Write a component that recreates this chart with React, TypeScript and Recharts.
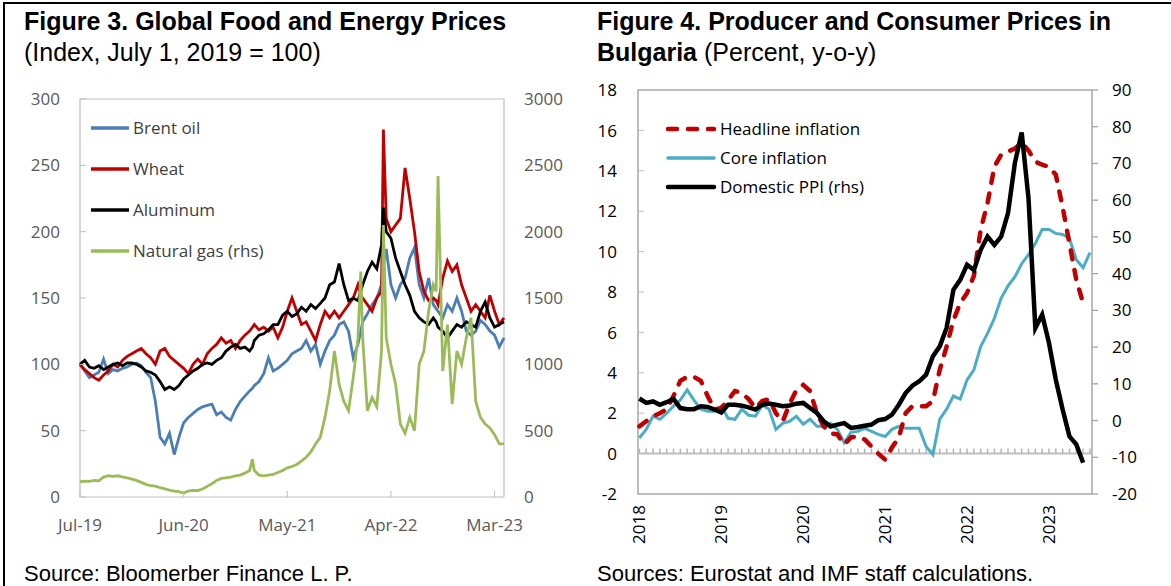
import React from 'react'
import { LineChart, Line, XAxis, YAxis, ReferenceLine, ReferenceArea } from 'recharts'

const TICK_FONT = '"Open Sans", "Noto Sans", sans-serif'
const TITLE_FONT = '"Liberation Sans", Arial, sans-serif'

// Figure 3: months since Jul 1, 2019 (extra points where the spikes are)
const priceMonths = [
  0, 0.5, 1, 1.5, 2, 2.5, 3, 3.5, 4, 4.5, 5, 5.5, 6, 6.5, 7, 7.5, 8, 8.5, 9, 9.5,
  10, 10.5, 11, 11.5, 12, 12.5, 13, 13.5, 14, 14.5, 15, 15.5, 16, 16.5, 17, 17.5, 18, 18.3, 18.5, 19,
  19.5, 20, 20.5, 21, 21.5, 22, 22.5, 23, 23.5, 24, 24.5, 25, 25.5, 26, 26.5, 27, 27.5, 28, 28.5, 29,
  29.5, 29.8, 30, 30.5, 31, 31.5, 32, 32.2, 32.5, 33, 33.5, 34, 34.5, 35, 35.5, 36, 36.5, 37, 37.5, 37.8,
  38, 38.5, 39, 39.5, 40, 40.5, 41, 41.5, 42, 42.5, 43, 43.5, 44, 44.5, 45,
]
const brent = [
  100, 95, 90, 92, 94, 104, 93, 96, 95, 97, 98, 100, 101, 99, 94, 90, 72, 45, 40, 48,
  32, 45, 56, 60, 63, 66, 68, 69, 70, 62, 64, 60, 58, 66, 72, 76, 80, 82, 84, 87,
  93, 105, 95, 97, 100, 103, 108, 110, 112, 118, 110, 115, 100, 110, 118, 122, 130, 132, 125, 105,
  115, 125, 132, 138, 145, 150, 160, 175, 187, 160, 150, 160, 165, 180, 188, 160, 150, 165, 145, 142,
  140, 135, 145, 140, 150, 140, 125, 122, 125, 133, 130, 125, 122, 113, 120,
]
const wheat = [
  100, 96, 93, 90, 88, 92, 95, 100, 98, 103, 106, 108, 110, 112, 108, 105, 100, 110, 112, 106,
  103, 100, 97, 93, 100, 104, 100, 108, 112, 115, 120, 116, 118, 112, 118, 122, 125, 128, 130, 126,
  128, 125, 128, 120, 128, 140, 150, 140, 130, 132, 125, 118, 130, 140, 135, 140, 135, 140, 145, 150,
  160, 152, 150, 145, 140, 150, 155, 277, 210, 200, 205, 210, 248, 225, 200, 170, 155, 148, 150, 148,
  145, 165, 178, 170, 175, 160, 150, 140, 145, 140, 135, 152, 140, 130, 135,
]
const aluminum = [
  100, 103, 98, 97, 99, 96, 98, 100, 101, 99, 101, 101, 100, 98, 95, 94, 92, 87, 81, 83,
  81, 84, 89, 92, 95, 97, 100, 101, 100, 103, 105, 110, 113, 115, 112, 113, 110, 113, 118, 122,
  123, 126, 130, 130, 137, 140, 136, 138, 143, 140, 145, 142, 146, 150, 160, 162, 176, 160, 148, 150,
  148, 155, 160, 170, 177, 172, 190, 218, 200, 195, 180, 170, 160, 152, 140, 135, 132, 130, 135, 132,
  128, 125, 120, 125, 130, 128, 132, 130, 128, 140, 147, 135, 128, 130, 132,
]
const naturalGas = [
  115, 120, 118, 125, 122, 150, 160, 155, 160, 152, 145, 135, 125, 110, 95, 85, 82, 70, 62, 52,
  45, 40, 30, 45, 50, 48, 60, 80, 100, 125, 140, 145, 150, 160, 165, 180, 200, 285, 200, 165,
  160, 165, 170, 185, 200, 220, 230, 245, 270, 300, 340, 400, 450, 600, 800, 1100, 850, 720, 650, 900,
  1200, 1700, 1200, 650, 750, 680, 1100, 2050, 1200, 1000, 850, 550, 480, 600, 500, 1000, 1100, 1400, 1600, 1550,
  2420, 950, 1300, 700, 1100, 1000, 1200, 1350, 720, 600, 550, 520, 470, 400, 400,
]
const priceTicks = [0, 11, 22, 33, 44]
const priceTickLabels = ['Jul-19', 'Jun-20', 'May-21', 'Apr-22', 'Mar-23']
const indexTicks = [0, 50, 100, 150, 200, 250, 300]
const gasTicks = [0, 500, 1000, 1500, 2000, 2500, 3000]

// Figure 4: monthly, Jan 2018 onwards
const headline = [
  1.35, 1.6, 1.85, 2.0, 2.2, 2.85, 3.6, 3.8, 3.8, 3.6, 2.85, 2.2,
  2.25, 2.65, 3.1, 3.0, 2.7, 2.25, 2.6, 2.7, 2.0, 1.6, 2.45, 3.15,
  3.4, 3.1, 2.0, 1.35, 1.0, 0.95, 0.45, 0.8, 0.85, 0.7, 0.35, 0.0,
  -0.3, 0.3, 0.8, 2.0, 2.35, 2.35, 2.35, 2.6, 4.15, 5.3, 6.6, 7.45,
  7.95, 8.8, 11.1, 12.4, 14.2, 14.8, 14.95, 15.1, 15.4, 15.0, 14.45, 14.3,
  14.2, 13.8, 12.2, 10.4, 8.6, 7.45,
]
const core = [
  0.77, 1.2, 1.85, 1.7, 2.0, 2.35, 2.65, 3.15, 2.65, 2.2, 2.1, 2.1,
  2.35, 1.75, 1.7, 2.2, 1.9, 1.85, 2.4, 2.2, 1.2, 1.5, 1.6, 1.85,
  1.45, 1.7, 1.35, 1.35, 1.5, 1.2, 0.55, 1.05, 1.1, 1.25, 1.1, 0.95,
  0.85, 1.2, 1.35, 1.25, 1.25, 1.25, 0.35, -0.05, 1.7, 2.2, 2.85, 2.7,
  3.65, 4.15, 5.3, 5.95, 6.7, 7.7, 8.3, 8.75, 9.4, 9.85, 10.4, 11.1,
  11.1, 10.9, 10.85, 10.65, 9.6, 9.2, 9.95,
]
const domesticPpi = [
  6.0, 4.8, 5.2, 4.3, 5.0, 5.9, 3.4, 3.1, 3.1, 3.9, 3.7, 3.0,
  2.2, 4.3, 4.3, 4.05, 3.6, 3.0, 4.3, 4.6, 4.3, 3.9, 4.1, 4.6,
  4.8, 3.4, 2.05, -0.2, -1.6, -1.1, -0.7, -2.0, -1.75, -1.4, -1.1, 0.1,
  0.4, 1.6, 4.3, 7.5, 9.5, 10.7, 12.5, 17.5, 20.2, 25.2, 35.6, 38.3,
  42.4, 41.0, 46.5, 50.1, 47.8, 50.1, 56.5, 70.1, 78.4, 60.5, 25.2, 28.8,
  21.1, 11.1, 3.0, -4.3, -6.5, -11.5,
]
const yearTicks = [0, 12, 24, 36, 48, 60]
const yearLabels = ['2018', '2019', '2020', '2021', '2022', '2023']
const pctTicks = [-2, 0, 2, 4, 6, 8, 10, 12, 14, 16, 18]
const ppiTicks = [-20, -10, 0, 10, 20, 30, 40, 50, 60, 70, 80, 90]

const monthIndex = core.map((_, i) => i)

// labels sit `gap` px off the axis, the small tick goes inward
function InwardYTick(props: any) {
  const { x, y, payload, gap, color } = props
  return (
    <g>
      <line x1={x + gap} x2={x + gap + 6} y1={y} y2={y} stroke="#bfbfbf" strokeWidth={1} />
      <text x={x} y={y} dy="0.36em" textAnchor="end" fill={color} fontSize={17} fontFamily={TICK_FONT}>
        {payload.value}
      </text>
    </g>
  )
}

function PriceXTick(props: any) {
  const { x, y, payload } = props
  const i = priceTicks.indexOf(payload.value)
  return (
    <g>
      <line x1={x} x2={x} y1={y - 22} y2={y - 28} stroke="#bfbfbf" strokeWidth={1} />
      <text x={x} y={y} dy="0.72em" textAnchor="middle" fill="#595959" fontSize={17} fontFamily={TICK_FONT}>
        {priceTickLabels[i]}
      </text>
    </g>
  )
}

function YearTick(props: any) {
  const { x, y, payload } = props
  const i = yearTicks.indexOf(payload.value)
  return (
    <text
      x={x}
      y={y}
      dy="0.36em"
      transform={`rotate(-90 ${x} ${y})`}
      textAnchor="end"
      fill="#000"
      fontSize={17}
      fontFamily={TICK_FONT}
    >
      {yearLabels[i]}
    </text>
  )
}

function PriceChart() {
  const data = priceMonths.map((t, i) => ({
    t,
    brent: brent[i],
    wheat: wheat[i],
    aluminum: aluminum[i],
    gas: naturalGas[i],
  }))
  return (
    <LineChart width={580} height={460} data={data} margin={{ top: 19, right: 20, bottom: 0, left: 20 }}>
      <XAxis
        dataKey="t"
        type="number"
        domain={[0, 45]}
        ticks={priceTicks}
        interval={0}
        height={43}
        tickSize={0}
        tickMargin={22}
        axisLine={false}
        tick={(p: any) => <PriceXTick {...p} />}
      />
      <YAxis
        yAxisId="left"
        domain={[0, 300]}
        ticks={indexTicks}
        interval={0}
        width={60}
        tickSize={0}
        tickMargin={20}
        axisLine={false}
        tick={(p: any) => <InwardYTick {...p} gap={20} color="#595959" />}
      />
      <YAxis
        yAxisId="right"
        orientation="right"
        domain={[0, 3000]}
        ticks={gasTicks}
        interval={0}
        width={56}
        tickSize={0}
        tickMargin={20}
        axisLine={false}
        tick={{ fill: '#595959', fontSize: 17, fontFamily: TICK_FONT }}
      />
      <ReferenceArea yAxisId="left" x1={0} x2={45} y1={0} y2={300} fill="none" stroke="#bfbfbf" strokeWidth={1.2} />
      <Line yAxisId="left" dataKey="brent" stroke="#4a7eb5" strokeWidth={2.8} dot={false} isAnimationActive={false} />
      <Line yAxisId="left" dataKey="wheat" stroke="#c00000" strokeWidth={2.8} dot={false} isAnimationActive={false} />
      <Line yAxisId="left" dataKey="aluminum" stroke="#000000" strokeWidth={2.8} dot={false} isAnimationActive={false} />
      <Line yAxisId="right" dataKey="gas" stroke="#9bbb59" strokeWidth={2.8} dot={false} isAnimationActive={false} />
    </LineChart>
  )
}

function InflationChart() {
  const data = monthIndex.map((m, i) => ({
    m,
    headline: headline[i] ?? null,
    core: core[i],
    ppi: domesticPpi[i] ?? null,
  }))
  return (
    <LineChart width={581} height={490} data={data} margin={{ top: 20, right: 19, bottom: 0, left: 0 }}>
      <XAxis
        dataKey="m"
        type="number"
        domain={[-0.2, 66.3]}
        ticks={yearTicks}
        interval={0}
        height={66}
        tickSize={0}
        tickMargin={11}
        axisLine={false}
        tick={(p: any) => <YearTick {...p} />}
      />
      <YAxis
        yAxisId="left"
        domain={[-2, 18]}
        ticks={pctTicks}
        interval={0}
        width={48}
        tickSize={0}
        tickMargin={21}
        axisLine={false}
        tick={(p: any) => <InwardYTick {...p} gap={21} color="#000" />}
      />
      <YAxis
        yAxisId="right"
        orientation="right"
        domain={[-20, 90]}
        ticks={ppiTicks}
        interval={0}
        width={60}
        tickSize={6}
        tickMargin={14}
        axisLine={false}
        tickLine={{ stroke: '#a6a6a6', strokeWidth: 1.3 }}
        tick={{ fill: '#000', fontSize: 17, fontFamily: TICK_FONT }}
      />
      <ReferenceArea yAxisId="left" x1={-0.2} x2={66.3} y1={-2} y2={18} fill="none" stroke="#a6a6a6" strokeWidth={1.5} />
      <ReferenceLine yAxisId="left" y={0} stroke="#bfbfbf" strokeWidth={2} />
      {monthIndex.map((m) => (
        <ReferenceLine
          key={m}
          yAxisId="left"
          segment={[{ x: m, y: 0 }, { x: m, y: 0.25 }]}
          stroke="#b5b5b5"
          strokeWidth={1.5}
        />
      ))}
      <Line yAxisId="left" dataKey="core" stroke="#4bacc6" strokeWidth={3} dot={false} isAnimationActive={false} />
      <Line
        yAxisId="left"
        dataKey="headline"
        stroke="#c00000"
        strokeWidth={4.5}
        strokeDasharray="9 11"
        strokeLinecap="round"
        dot={false}
        isAnimationActive={false}
      />
      <Line yAxisId="right" dataKey="ppi" stroke="#000000" strokeWidth={4.5} dot={false} isAnimationActive={false} />
    </LineChart>
  )
}

const priceLegend = [
  { name: 'Brent oil', color: '#4a7eb5' },
  { name: 'Wheat', color: '#c00000' },
  { name: 'Aluminum', color: '#000000' },
  { name: 'Natural gas (rhs)', color: '#9bbb59' },
]
const inflationLegend = [
  { name: 'Headline inflation', color: '#c00000', dash: '9 11', width: 4.5 },
  { name: 'Core inflation', color: '#4bacc6', dash: undefined, width: 3.5 },
  { name: 'Domestic PPI (rhs)', color: '#000000', dash: undefined, width: 4.5 },
]

const titleStyle: React.CSSProperties = {
  position: 'absolute',
  fontFamily: TITLE_FONT,
  fontSize: 25,
  lineHeight: '31px',
  color: '#000',
  whiteSpace: 'nowrap',
}

export default function App() {
  return (
    <div style={{ position: 'absolute', left: 0, top: 0, width: 1171, height: 586, background: '#fff', overflow: 'hidden' }}>
      {/* frame */}
      <div style={{ position: 'absolute', left: 3, top: 2, width: 1200, height: 600, borderTop: '2px solid #000', borderLeft: '2px solid #000' }} />

      <div style={{ ...titleStyle, left: 24, top: 6 }}>
        <b>Figure 3. Global Food and Energy Prices</b>
        <br />
        (Index, July 1, 2019 = 100)
      </div>
      <div style={{ ...titleStyle, left: 597, top: 6 }}>
        <b>Figure 4. Producer and Consumer Prices in</b>
        <br />
        <b>Bulgaria</b> (Percent, y-o-y)
      </div>

      <div style={{ position: 'absolute', left: 0, top: 80 }}>
        <PriceChart />
      </div>
      <div style={{ position: 'absolute', left: 590, top: 70 }}>
        <InflationChart />
      </div>

      <svg style={{ position: 'absolute', left: 0, top: 0 }} width={1171} height={586}>
        {priceLegend.map((d, i) => (
          <g key={d.name}>
            <line x1={91} x2={129} y1={128 + i * 41} y2={128 + i * 41} stroke={d.color} strokeWidth={3.5} />
            <text x={133} y={128 + i * 41} dy="0.36em" fontSize={17} fontFamily={TICK_FONT} fill="#404040">
              {d.name}
            </text>
          </g>
        ))}
        {inflationLegend.map((d, i) => (
          <g key={d.name}>
            <line
              x1={668}
              x2={714}
              y1={129 + i * 29}
              y2={129 + i * 29}
              stroke={d.color}
              strokeWidth={d.width}
              strokeDasharray={d.dash}
              strokeLinecap="round"
            />
            <text x={720} y={129 + i * 29} dy="0.36em" fontSize={17} fontFamily={TICK_FONT} fill="#000">
              {d.name}
            </text>
          </g>
        ))}
      </svg>

      <div style={{ ...titleStyle, fontSize: 22, lineHeight: '22px', left: 24, top: 563 }}>Source: Bloomerber Finance L. P.</div>
      <div style={{ ...titleStyle, fontSize: 22, lineHeight: '22px', left: 597, top: 563 }}>Sources: Eurostat and IMF staff calculations.</div>
    </div>
  )
}
